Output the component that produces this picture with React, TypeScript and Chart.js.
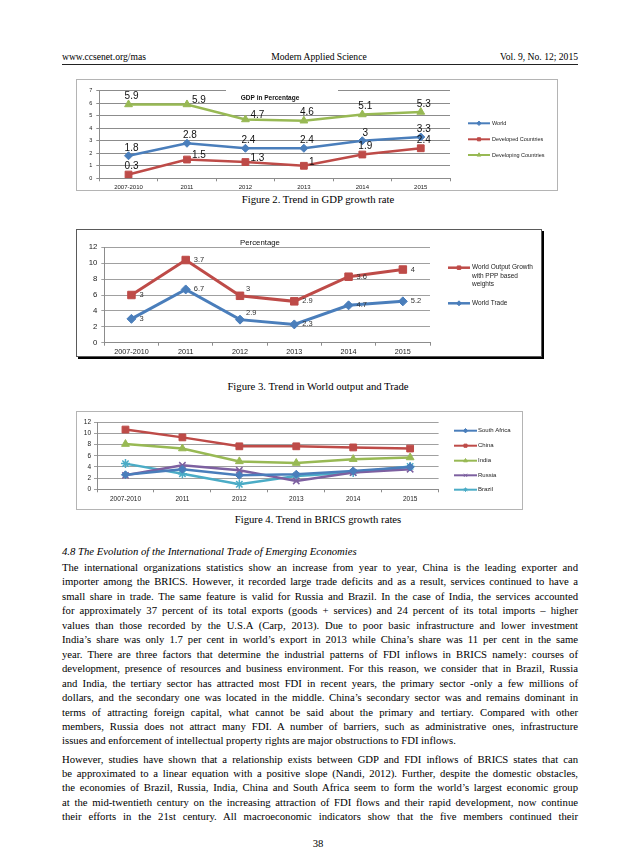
import React, { useEffect, useRef } from "react";
import { Chart, registerables } from "chart.js";
import { drawPoint } from "chart.js/helpers";
Chart.register(...registerables);

// ---------- DATA ----------
const years = ["2007-2010", "2011", "2012", "2013", "2014", "2015"];

// Figure 2 – GDP growth (%)
const gdpWorld = [1.8, 2.8, 2.4, 2.4, 3, 3.3];
const gdpDeveloped = [0.3, 1.5, 1.3, 1, 1.9, 2.4];
const gdpDeveloping = [5.9, 5.9, 4.7, 4.6, 5.1, 5.3];
const gdpTickMax = 7;
const gdpTickStep = 1;

// Figure 3 – World output and trade (stacked lines)
const worldTrade = [3, 6.7, 2.9, 2.3, 4.7, 5.2];
const worldOutput = [3, 3.7, 3, 2.9, 3.6, 4];
const outputTickMax = 12;
const outputTickStep = 2;
const outputLegendLines = ["World Output Growth", "with PPP based", "weights"];

// Figure 4 – BRICS growth rates
const southAfrica = [2.6, 3.6, 2.5, 2.7, 3.3, 4.0];
const china = [10.7, 9.3, 7.7, 7.7, 7.5, 7.3];
const india = [8.1, 7.3, 5.0, 4.7, 5.4, 5.7];
const russia = [2.5, 4.3, 3.4, 1.5, 3.0, 3.6];
const brazil = [4.6, 2.8, 0.9, 2.4, 3.0, 4.1];
const bricsTickMax = 12;
const bricsTickStep = 2;

// label placement (style, not data)
const posWorld = ["above", "above", "above", "above", "above", "above"];
const posDeveloped = ["above", "right", "right", "right", "above", "above"];
const posDeveloping = ["above", "right", "right", "above", "above", "above"];
const posOutput = ["right", "right", "upRight", "right", "right", "right"];
const posTrade = ["right", "right", "upRight", "right", "right", "right"];

// ---------- STYLE ----------
const BLUE = "#4A7EBB";
const RED = "#BE4B48";
const GREEN = "#98B954";
const PURPLE = "#7D60A0";
const TEAL = "#4BACC6";
const SANS = '"Liberation Sans", Arial, sans-serif';
const SERIF = '"Liberation Serif", "Times New Roman", serif';

function pointLabelsPlugin(cfg: any) {
  return {
    id: "pointLabels",
    afterDatasetsDraw(chart: any) {
      const ctx = chart.ctx;
      ctx.save();
      ctx.font = cfg.font;
      ctx.fillStyle = cfg.color;
      chart.data.datasets.forEach((ds: any, di: number) => {
        const pos = ds.labelPos;
        if (!pos) return;
        chart.getDatasetMeta(di).data.forEach((el: any, i: number) => {
          const p = cfg.places[pos[i]];
          ctx.textAlign = p.align;
          ctx.textBaseline = p.baseline;
          ctx.fillText(String(ds.data[i]), el.x + p.dx, el.y + p.dy);
        });
      });
      ctx.restore();
    },
  };
}

function legendPlugin(cfg: any) {
  return {
    id: "customLegend",
    afterDraw(chart: any) {
      const ctx = chart.ctx;
      ctx.save();
      cfg.items.forEach((it: any) => {
        const ds = chart.data.datasets[it.index];
        const color = ds.borderColor;
        ctx.strokeStyle = color;
        ctx.lineWidth = cfg.lineWidth;
        ctx.beginPath();
        ctx.moveTo(cfg.x0, it.y);
        ctx.lineTo(cfg.x1, it.y);
        ctx.stroke();
        ctx.fillStyle = color;
        ctx.strokeStyle = color;
        ctx.lineWidth = 1;
        drawPoint(
          ctx,
          { pointStyle: ds.pointStyle, radius: cfg.markerRadius, rotation: 0, borderWidth: 1 } as any,
          (cfg.x0 + cfg.x1) / 2,
          it.y
        );
        ctx.fillStyle = "#222";
        ctx.font = cfg.font;
        ctx.textAlign = "left";
        ctx.textBaseline = "middle";
        const lines: string[] = it.lines || [ds.label];
        lines.forEach((t, k) => ctx.fillText(t, cfg.textX, it.y + k * cfg.lineGap));
      });
      ctx.restore();
    },
  };
}

function titlePlugin(cfg: any) {
  return {
    id: "innerTitle",
    afterDraw(chart: any) {
      const ctx = chart.ctx;
      ctx.save();
      if (cfg.box) {
        ctx.fillStyle = "#fff";
        ctx.fillRect(cfg.box[0], cfg.box[1], cfg.box[2], cfg.box[3]);
      }
      ctx.fillStyle = "#111";
      ctx.font = cfg.font;
      ctx.textAlign = "center";
      ctx.textBaseline = "middle";
      ctx.fillText(cfg.text, cfg.x, cfg.y);
      ctx.restore();
    },
  };
}

function makeScales(o: any) {
  return {
    x: {
      type: "category",
      offset: true,
      grid: {
        display: true,
        drawOnChartArea: false,
        drawTicks: true,
        tickLength: 3,
        offset: true,
        color: o.axis,
      },
      border: { display: true, color: o.axis, width: 1 },
      ticks: {
        font: { family: SANS, size: o.xFont },
        color: "#222",
        padding: o.xPad,
        maxRotation: 0,
        autoSkip: false,
      },
      afterFit: (s: any) => {
        s.height = o.xH;
      },
    },
    y: {
      min: 0,
      max: o.max,
      stacked: !!o.stacked,
      grid: { color: o.grid, tickLength: 3, drawTicks: true, lineWidth: 1 },
      border: { display: true, color: o.axis, width: 1 },
      ticks: {
        stepSize: o.step,
        font: { family: SANS, size: o.yFont },
        color: "#222",
        padding: o.yPad,
      },
      afterFit: (s: any) => {
        s.width = o.yW;
      },
    },
  };
}

function line(label: string, data: number[], color: string, style: string, radius: number, width: number, extra: any = {}) {
  return {
    label,
    data,
    borderColor: color,
    backgroundColor: color,
    pointBackgroundColor: color,
    pointBorderColor: color,
    pointStyle: style,
    pointRadius: radius,
    pointBorderWidth: 1,
    borderWidth: width,
    tension: 0,
    fill: false,
    ...extra,
  };
}

function config1(): any {
  return {
    type: "line",
    data: {
      labels: years,
      datasets: [
        line("World", gdpWorld, BLUE, "rectRot", 4, 2.5, { labelPos: posWorld }),
        line("Developed Countries", gdpDeveloped, RED, "rect", 4.8, 2.5, { labelPos: posDeveloped }),
        line("Developing Countries", gdpDeveloping, GREEN, "triangle", 4.5, 2.5, { labelPos: posDeveloping }),
      ],
    },
    options: {
      responsive: false,
      animation: false,
      devicePixelRatio: 1,
      layout: { padding: { top: 11.7, right: 108, left: 0, bottom: 0 } },
      plugins: { legend: { display: false }, tooltip: { enabled: false } },
      scales: makeScales({
        max: gdpTickMax, step: gdpTickStep, yW: 23.3, xH: 12.7, xFont: 6, yFont: 5.5,
        xPad: 2, yPad: 4, grid: "#8c8c8c", axis: "#8c8c8c",
      }),
    },
    plugins: [
      titlePlugin({ text: "GDP in Percentage", x: 194, y: 19, font: `bold 6.5px ${SANS}`, box: [150, 6, 112, 9] }),
      pointLabelsPlugin({
        font: `10px ${SANS}`,
        color: "#111",
        places: {
          above: { dx: 3, dy: -3, align: "center", baseline: "bottom" },
          right: { dx: 5, dy: -4, align: "left", baseline: "middle" },
        },
      }),
      legendPlugin({
        x0: 392, x1: 414, textX: 416, lineWidth: 2, markerRadius: 2.2, font: `5.5px ${SANS}`, lineGap: 7,
        items: [{ index: 0, y: 44.3 }, { index: 1, y: 60.3 }, { index: 2, y: 76 }],
      }),
    ],
  };
}

function config2(): any {
  return {
    type: "line",
    data: {
      labels: years,
      datasets: [
        line("World Trade", worldTrade, BLUE, "rectRot", 4.5, 3, { labelPos: posTrade }),
        line("World Output Growth with PPP based weights", worldOutput, RED, "rect", 5.3, 3, { labelPos: posOutput }),
      ],
    },
    options: {
      responsive: false,
      animation: false,
      devicePixelRatio: 1,
      layout: { padding: { top: 18.3, right: 112, left: 0, bottom: 0 } },
      plugins: { legend: { display: false }, tooltip: { enabled: false } },
      scales: makeScales({
        max: outputTickMax, step: outputTickStep, yW: 28.3, xH: 14.3, xFont: 7.2, yFont: 7.8,
        xPad: 2, yPad: 4, grid: "#a0a0a0", axis: "#8c8c8c", stacked: true,
      }),
    },
    plugins: [
      titlePlugin({ text: "Percentage", x: 184, y: 14.3, font: `7.8px ${SANS}` }),
      pointLabelsPlugin({
        font: `7.5px ${SANS}`,
        color: "#333",
        places: {
          right: { dx: 8, dy: 0, align: "left", baseline: "middle" },
          upRight: { dx: 6, dy: -7, align: "left", baseline: "middle" },
        },
      }),
      legendPlugin({
        x0: 372, x1: 394, textX: 396, lineWidth: 2.5, markerRadius: 2.5, font: `6.5px ${SANS}`, lineGap: 8.3,
        items: [{ index: 1, y: 38.7, lines: outputLegendLines }, { index: 0, y: 74.3 }],
      }),
    ],
  };
}

function config3(): any {
  return {
    type: "line",
    data: {
      labels: years,
      datasets: [
        line("South Africa", southAfrica, BLUE, "rectRot", 4, 2.5),
        line("China", china, RED, "rect", 4.8, 2.5),
        line("India", india, GREEN, "triangle", 4.5, 2.5),
        line("Russia", russia, PURPLE, "crossRot", 4.5, 2.5, { pointBorderWidth: 1.5 }),
        line("Brazil", brazil, TEAL, "star", 4.5, 2.5, { pointBorderWidth: 1.5 }),
      ],
    },
    options: {
      responsive: false,
      animation: false,
      devicePixelRatio: 1,
      layout: { padding: { top: 11.3, right: 84.4, left: 0, bottom: 0 } },
      plugins: { legend: { display: false }, tooltip: { enabled: false } },
      scales: makeScales({
        max: bricsTickMax, step: bricsTickStep, yW: 21, xH: 20.7, xFont: 6.5, yFont: 6.5,
        xPad: 3.5, yPad: 3, grid: "#a0a0a0", axis: "#8c8c8c",
      }),
    },
    plugins: [
      legendPlugin({
        x0: 378, x1: 401, textX: 402, lineWidth: 2, markerRadius: 2.2, font: `6px ${SANS}`, lineGap: 7,
        items: [
          { index: 0, y: 19.7 },
          { index: 1, y: 34.7 },
          { index: 2, y: 49.7 },
          { index: 3, y: 64.3 },
          { index: 4, y: 78.7 },
        ],
      }),
    ],
  };
}

function ChartBox(props: { left: number; top: number; width: number; height: number; frame: any; make: () => any }) {
  const ref = useRef<HTMLCanvasElement>(null);
  useEffect(() => {
    if (!ref.current) return;
    const c = new Chart(ref.current, props.make());
    return () => c.destroy();
  }, []);
  return (
    <div style={{ position: "absolute", left: props.left, top: props.top, width: props.width, height: props.height }}>
      <canvas ref={ref} width={props.width} height={props.height} style={{ display: "block", width: props.width, height: props.height }} />
      <div
        style={{
          position: "absolute",
          left: 0,
          top: 0,
          width: props.width,
          height: props.height,
          boxSizing: "border-box",
          pointerEvents: "none",
          ...props.frame,
        }}
      />
    </div>
  );
}

const para1 = [
  "The international organizations statistics show an increase from year to year, China is the leading exporter and",
  "importer among the BRICS. However, it recorded large trade deficits and as a result, services continued to have a",
  "small share in trade. The same feature is valid for Russia and Brazil. In the case of India, the services accounted",
  "for approximately 37 percent of its total exports (goods + services) and 24 percent of its total imports – higher",
  "values than those recorded by the U.S.A (Carp, 2013). Due to poor basic infrastructure and lower investment",
  "India’s share was only 1.7 per cent in world’s export in 2013 while China’s share was 11 per cent in the same",
  "year. There are three factors that determine the industrial patterns of FDI inflows in BRICS namely: courses of",
  "development, presence of resources and business environment. For this reason, we consider that in Brazil, Russia",
  "and India, the tertiary sector has attracted most FDI in recent years, the primary sector -only a few millions of",
  "dollars, and the secondary one was located in the middle. China’s secondary sector was and remains dominant in",
  "terms of attracting foreign capital, what cannot be said about the primary and tertiary. Compared with other",
  "members, Russia does not attract many FDI. A number of barriers, such as administrative ones, infrastructure",
  "issues and enforcement of intellectual property rights are major obstructions to FDI inflows.",
];
const para2 = [
  "However, studies have shown that a relationship exists between GDP and FDI inflows of BRICS states that can",
  "be approximated to a linear equation with a positive slope (Nandi, 2012). Further, despite the domestic obstacles,",
  "the economies of Brazil, Russia, India, China and South Africa seem to form the world’s largest economic group",
  "at the mid-twentieth century on the increasing attraction of FDI flows and their rapid development, now continue",
  "their efforts in the 21st century. All macroeconomic indicators show that the five members continued their",
];

function TextLine(p: { y: number; text: string; justify: boolean; italic?: boolean }) {
  return (
    <div
      style={{
        position: "absolute",
        left: 62,
        top: p.y - 7,
        width: 516,
        height: 14,
        lineHeight: "14px",
        fontSize: 10.7,
        fontFamily: SERIF,
        whiteSpace: "nowrap",
        textAlign: p.justify ? "justify" : "left",
        textAlignLast: p.justify ? "justify" : "left",
        fontStyle: p.italic ? "italic" : "normal",
      } as any}
    >
      {p.text}
    </div>
  );
}

function Caption(p: { y: number; text: string }) {
  return (
    <div
      style={{
        position: "absolute",
        left: 0,
        width: 636,
        top: p.y - 7,
        lineHeight: "14px",
        fontSize: 10.7,
        fontFamily: SERIF,
        textAlign: "center",
      }}
    >
      {p.text}
    </div>
  );
}

export default function App() {
  useEffect(() => {
    document.body.style.margin = "0";
  }, []);
  const step = 14.45;
  return (
    <div style={{ position: "relative", width: 638, height: 867, background: "#fff", color: "#000", fontFamily: SERIF, overflow: "hidden" }}>
      {/* header */}
      <div style={{ position: "absolute", left: 62, top: 50, fontSize: 9.6, lineHeight: "14px" }}>www.ccsenet.org/mas</div>
      <div style={{ position: "absolute", left: 0, width: 638, top: 50, fontSize: 9.6, lineHeight: "14px", textAlign: "center" }}>
        Modern Applied Science
      </div>
      <div style={{ position: "absolute", right: 60, top: 50, fontSize: 9.6, lineHeight: "14px" }}>Vol. 9, No. 12; 2015</div>
      <div style={{ position: "absolute", left: 62, top: 64, width: 516, height: 1, background: "#222" }} />

      <ChartBox left={76} top={79} width={482} height={112} frame={{ border: "1px solid #b4b4b4" }} make={config1} />
      <Caption y={199} text="Figure 2. Trend in GDP growth rate" />

      <ChartBox
        left={76}
        top={229}
        width={466}
        height={128}
        frame={{ border: "1px solid #5a5a5a", boxShadow: "2px 2px 0 #000" }}
        make={config2}
      />
      <Caption y={386} text="Figure 3. Trend in World output and Trade" />

      <ChartBox left={76} top={411} width={447} height={99} frame={{ border: "1px solid #b4b4b4" }} make={config3} />
      <Caption y={519} text="Figure 4. Trend in BRICS growth rates" />

      <TextLine y={551} text="4.8 The Evolution of the International Trade of Emerging Economies" justify={false} italic />
      {para1.map((t, i) => (
        <TextLine key={"a" + i} y={567 + i * step} text={t} justify={i < para1.length - 1} />
      ))}
      {para2.map((t, i) => (
        <TextLine key={"b" + i} y={758.5 + i * step} text={t} justify={true} />
      ))}
      <Caption y={843} text="38" />
    </div>
  );
}
